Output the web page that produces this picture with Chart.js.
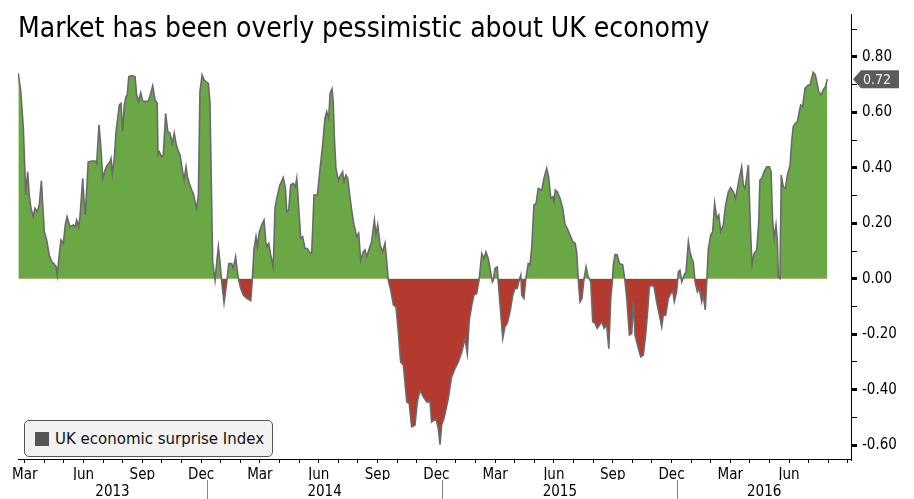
<!DOCTYPE html>
<html>
<head>
<meta charset="utf-8">
<script src="https://cdn.jsdelivr.net/npm/chart.js@4.4.1/dist/chart.umd.min.js"></script>
<style>
  body { margin: 0; background: #fff; }
  #wrap { position: relative; width: 914px; height: 499px; }
  #title {
    position: absolute; left: 18px; top: 12px;
    font-family: 'DejaVu Sans Condensed', 'DejaVu Sans', sans-serif;
    font-size: 28px; line-height: 32px; color: #000; white-space: nowrap;
  }
  #legend {
    position: absolute; left: 24px; top: 420px; width: 249px; height: 37px;
    box-sizing: border-box; border: 1px solid #555; border-radius: 5px;
    background: #f2f2f2; display: flex; align-items: center; padding-left: 10px;
    font-family: 'DejaVu Sans', sans-serif;
    font-size: 15px; color: #111;
  }
  #legend .box { width: 14px; height: 14px; background: #555; margin-right: 6px; }
</style>
</head>
<body>
<div id="wrap">
  <canvas id="surpriseChart"></canvas>
  <div id="title">Market has been overly pessimistic about UK economy</div>
  <div id="legend"><span class="box"></span>UK economic surprise Index</div>
</div>
<script>
// x = months since 1 Jan 2013, y = index value
const months = [
  2.37, 2.50, 2.63, 2.71, 2.75, 2.85, 2.93, 3.02, 3.14, 3.22,
  3.34, 3.44, 3.55, 3.62, 3.70, 3.82, 3.95, 4.08, 4.19, 4.30,
  4.36, 4.46, 4.55, 4.67, 4.77, 4.86, 5.01, 5.18, 5.27, 5.35,
  5.45, 5.52, 5.66, 5.72, 5.79, 5.94, 6.12, 6.29, 6.37, 6.49,
  6.59, 6.68, 6.80, 6.91, 7.05, 7.10, 7.17, 7.27, 7.36, 7.53,
  7.61, 7.70, 7.78, 7.87, 7.93, 8.01, 8.16, 8.33, 8.41, 8.50,
  8.62, 8.72, 8.84, 9.01, 9.13, 9.23, 9.35, 9.46, 9.50, 9.57,
  9.69, 9.77, 9.89, 10.00, 10.11, 10.23, 10.33, 10.42, 10.51, 10.62,
  10.76, 10.83, 10.93, 11.00, 11.10, 11.22, 11.30, 11.39, 11.47, 11.56,
  11.64, 11.75, 11.85, 11.95, 12.07, 12.15, 12.29, 12.41, 12.50, 12.58,
  12.66, 12.75, 12.87, 13.01, 13.11, 13.26, 13.34, 13.46, 13.55, 13.62,
  13.72, 13.85, 14.03, 14.23, 14.31, 14.40, 14.50, 14.57, 14.67, 14.79,
  14.91, 15.00, 15.05, 15.15, 15.25, 15.38, 15.47, 15.56, 15.72, 15.89,
  16.00, 16.07, 16.17, 16.27, 16.40, 16.51, 16.58, 16.66, 16.78, 16.88,
  17.00, 17.12, 17.22, 17.34, 17.46, 17.63, 17.77, 17.90, 18.02, 18.11,
  18.21, 18.28, 18.38, 18.44, 18.50, 18.58, 18.70, 18.82, 18.92, 18.99,
  19.09, 19.18, 19.26, 19.38, 19.50, 19.64, 19.74, 19.84, 19.97, 20.06,
  20.15, 20.28, 20.40, 20.54, 20.62, 20.71, 20.83, 20.96, 21.08, 21.17,
  21.25, 21.39, 21.51, 21.64, 21.76, 21.88, 22.02, 22.19, 22.32, 22.44,
  22.61, 22.73, 22.87, 23.04, 23.21, 23.38, 23.46, 23.68, 23.80, 23.89,
  23.97, 24.09, 24.31, 24.48, 24.65, 24.82, 25.00, 25.16, 25.28, 25.38,
  25.51, 25.62, 25.76, 25.88, 26.02, 26.13, 26.23, 26.35, 26.47, 26.56,
  26.61, 26.69, 26.81, 26.86, 26.98, 27.09, 27.20, 27.32, 27.46, 27.60,
  27.71, 27.83, 27.93, 28.01, 28.06, 28.17, 28.26, 28.39, 28.48, 28.57,
  28.68, 28.79, 28.90, 29.08, 29.19, 29.33, 29.43, 29.54, 29.64, 29.70,
  29.77, 29.87, 30.01, 30.15, 30.27, 30.38, 30.52, 30.66, 30.78, 30.86,
  30.94, 31.03, 31.13, 31.23, 31.34, 31.45, 31.58, 31.68, 31.80, 31.91,
  32.02, 32.14, 32.26, 32.39, 32.50, 32.60, 32.68, 32.73, 32.82, 32.93,
  33.04, 33.21, 33.33, 33.41, 33.55, 33.67, 33.75, 33.84, 34.01, 34.13,
  34.26, 34.38, 34.48, 34.57, 34.69, 34.81, 34.94, 35.08, 35.20, 35.28,
  35.40, 35.54, 35.66, 35.76, 35.84, 35.96, 36.05, 36.13, 36.22, 36.34,
  36.44, 36.56, 36.64, 36.73, 36.81, 36.90, 37.02, 37.12, 37.24, 37.32,
  37.42, 37.50, 37.58, 37.70, 37.80, 37.90, 38.01, 38.11, 38.21, 38.34,
  38.46, 38.60, 38.72, 38.85, 38.97, 39.08, 39.19, 39.28, 39.36, 39.45,
  39.54, 39.62, 39.67, 39.74, 39.81, 39.91, 40.05, 40.15, 40.21, 40.30,
  40.42, 40.56, 40.69, 40.78, 40.86, 40.94, 41.03, 41.10, 41.15, 41.23,
  41.30, 41.40, 41.51, 41.61, 41.75, 41.83, 41.91, 42.02, 42.12, 42.22,
  42.29, 42.39, 42.51, 42.60, 42.68, 42.77, 42.85, 42.93, 43.04, 43.11,
  43.21, 43.33, 43.44, 43.55, 43.65
];

const surprise = [
  0.741, 0.675, 0.543, 0.386, 0.302, 0.386, 0.302, 0.254, 0.224, 0.254,
  0.242, 0.266, 0.353, 0.266, 0.170, 0.140, 0.086, 0.061, 0.055, 0.043,
  0.013, 0.086, 0.140, 0.128, 0.194, 0.224, 0.188, 0.194, 0.188, 0.212,
  0.188, 0.224, 0.362, 0.290, 0.230, 0.422, 0.425, 0.425, 0.416, 0.555,
  0.470, 0.362, 0.392, 0.410, 0.422, 0.434, 0.380, 0.434, 0.531, 0.627,
  0.633, 0.531, 0.627, 0.657, 0.663, 0.729, 0.733, 0.729, 0.663, 0.639,
  0.671, 0.641, 0.639, 0.641, 0.669, 0.696, 0.645, 0.633, 0.447, 0.458,
  0.440, 0.447, 0.597, 0.531, 0.525, 0.488, 0.525, 0.488, 0.465, 0.447,
  0.386, 0.356, 0.404, 0.368, 0.344, 0.320, 0.308, 0.278, 0.254, 0.302,
  0.675, 0.735, 0.717, 0.711, 0.705, 0.639, 0.061, -0.005, 0.061, 0.116,
  0.061, -0.011, -0.087, -0.011, 0.055, 0.055, 0.037, 0.079, 0.025, -0.005,
  -0.035, -0.059, -0.071, -0.079, -0.005, 0.109, 0.152, 0.116, 0.170, 0.194,
  0.212, 0.134, 0.116, 0.128, 0.086, 0.043, 0.254, 0.290, 0.338, 0.365,
  0.326, 0.242, 0.248, 0.338, 0.344, 0.332, 0.362, 0.278, 0.146, 0.152,
  0.109, 0.109, 0.097, 0.091, 0.302, 0.302, 0.398, 0.483, 0.579, 0.603,
  0.579, 0.669, 0.685, 0.639, 0.506, 0.398, 0.356, 0.374, 0.386, 0.350,
  0.374, 0.362, 0.314, 0.248, 0.194, 0.152, 0.164, 0.067, 0.097, 0.104,
  0.079, 0.109, 0.134, 0.212, 0.158, 0.194, 0.122, 0.097, 0.128, 0.061,
  -0.005, -0.047, -0.095, -0.101, -0.191, -0.300, -0.312, -0.444, -0.450, -0.534,
  -0.528, -0.444, -0.402, -0.426, -0.444, -0.444, -0.516, -0.504, -0.540, -0.598,
  -0.528, -0.504, -0.432, -0.354, -0.324, -0.300, -0.264, -0.215, -0.270, -0.149,
  -0.095, -0.059, -0.053, -0.005, 0.091, 0.073, 0.097, 0.073, 0.025, -0.011,
  -0.004, 0.037, 0.043, -0.011, -0.119, -0.215, -0.173, -0.161, -0.119, -0.059,
  -0.035, -0.035, -0.005, 0.013, -0.059, -0.071, -0.004, 0.055, 0.050, 0.116,
  0.266, 0.272, 0.326, 0.320, 0.362, 0.398, 0.368, 0.290, 0.296, 0.278,
  0.320, 0.314, 0.290, 0.254, 0.194, 0.182, 0.158, 0.134, 0.128, 0.097,
  0.001, -0.083, -0.071, -0.004, 0.043, 0.007, -0.011, -0.155, -0.161, -0.179,
  -0.167, -0.155, -0.179, -0.167, -0.252, -0.071, -0.011, 0.050, 0.088, 0.086,
  0.055, 0.050, -0.011, -0.065, -0.203, -0.197, -0.083, -0.203, -0.252, -0.282,
  -0.275, -0.203, -0.119, -0.029, -0.023, -0.029, -0.083, -0.131, -0.173, -0.131,
  -0.131, -0.071, -0.053, -0.044, -0.083, -0.047, 0.025, 0.031, -0.011, 0.013,
  0.025, 0.134, 0.097, 0.073, 0.061, -0.011, -0.047, -0.035, -0.083, -0.059,
  -0.112, -0.005, 0.109, 0.158, 0.170, 0.272, 0.218, 0.230, 0.170, 0.194,
  0.266, 0.314, 0.329, 0.314, 0.290, 0.332, 0.374, 0.404, 0.338, 0.326,
  0.368, 0.410, 0.302, 0.158, 0.052, 0.091, 0.104, 0.206, 0.356, 0.362,
  0.386, 0.404, 0.404, 0.386, 0.206, 0.146, 0.194, 0.134, 0.007, 0.001,
  0.374, 0.332, 0.326, 0.374, 0.410, 0.495, 0.549, 0.561, 0.567, 0.603,
  0.627, 0.621, 0.687, 0.693, 0.699, 0.699, 0.723, 0.745, 0.735, 0.711,
  0.675, 0.663, 0.681, 0.693, 0.720
];

const monthNames = ['Jan', 'Feb', 'Mar', 'Apr', 'May', 'Jun', 'Jul', 'Aug', 'Sep', 'Oct', 'Nov', 'Dec'];
const labelledMonths = ['Mar', 'Jun', 'Sep', 'Dec'];
const years = ['2013', '2014', '2015', '2016'];
const yTicks = [-0.6, -0.5, -0.4, -0.3, -0.2, -0.1, 0, 0.1, 0.2, 0.3, 0.4, 0.5, 0.6, 0.7, 0.8, 0.9];

const xMin = 2.357;
const xMax = 44.857;
const monthOffset = 0.7;
const axisFont = { family: "'DejaVu Sans Condensed', 'DejaVu Sans', sans-serif", size: 15 };

// year label positions: centre of the visible part of each year, plus dividers
const yearTicks = [];
years.forEach((y, i) => {
    const a = Math.max(xMin, i * 12);
    const b = Math.min(xMax, (i + 1) * 12);
    yearTicks.push({ value: (a + b) / 2, label: y, divider: false });
    if (i > 0) yearTicks.push({ value: i * 12, label: '', divider: true });
});
yearTicks.sort((p, q) => p.value - q.value);

const lastValueTag = {
    id: 'lastValueTag',
    afterDraw(chart) {
        const { ctx, chartArea, scales } = chart;
        const v = surprise[surprise.length - 1];
        const y = scales.y.getPixelForValue(v);
        const x0 = chartArea.right + 2;
        ctx.save();
        ctx.beginPath();
        ctx.moveTo(x0, y);
        ctx.lineTo(x0 + 8, y - 9);
        ctx.lineTo(x0 + 46, y - 9);
        ctx.lineTo(x0 + 46, y + 9);
        ctx.lineTo(x0 + 8, y + 9);
        ctx.closePath();
        ctx.fillStyle = '#5b5b5b';
        ctx.fill();
        ctx.fillStyle = '#eeeeee';
        ctx.font = "14px 'DejaVu Sans Condensed', 'DejaVu Sans', sans-serif";
        ctx.textBaseline = 'middle';
        ctx.fillText(v.toFixed(2), x0 + 10, y + 1);
        ctx.restore();
    }
};

new Chart(document.getElementById('surpriseChart'), {
    type: 'line',
    data: {
        datasets: [{
            label: 'UK economic surprise Index',
            data: months.map((m, i) => ({ x: m, y: surprise[i] })),
            borderColor: '#6a6a6a',
            borderWidth: 1.6,
            pointRadius: 0,
            tension: 0,
            fill: { target: { value: 0 }, above: '#6aa845', below: '#b4392f' }
        }]
    },
    options: {
        responsive: true,
        maintainAspectRatio: false,
        animation: false,
        layout: { padding: { left: 18, top: 12, right: 0, bottom: 0 } },
        plugins: {
            legend: { display: false },
            tooltip: { enabled: false }
        },
        scales: {
            x: {
                type: 'linear',
                min: xMin,
                max: xMax,
                weight: 0,
                afterBuildTicks: (scale) => {
                    const t = [];
                    for (let m = 2; m <= 44; m++) t.push({ value: m + monthOffset });
                    scale.ticks = t;
                },
                afterFit: (scale) => { scale.height = 21; },
                ticks: {
                    autoSkip: false,
                    maxRotation: 0,
                    padding: 3,
                    color: '#000',
                    font: axisFont,
                    callback: (value) => {
                        if (value + 1 > xMax) return '';
                        const name = monthNames[Math.round(value - monthOffset) % 12];
                        return labelledMonths.includes(name) ? name : '';
                    }
                },
                grid: { drawOnChartArea: false, drawTicks: true, tickLength: 4, color: '#000' },
                border: { display: true, color: '#000', width: 1 }
            },
            x2: {
                type: 'linear',
                position: 'bottom',
                min: xMin,
                max: xMax,
                weight: 1,
                afterBuildTicks: (scale) => {
                    scale.ticks = yearTicks.map(t => ({ value: t.value }));
                },
                afterFit: (scale) => { scale.height = 19; },
                ticks: {
                    autoSkip: false,
                    maxRotation: 0,
                    padding: -17,
                    color: '#000',
                    font: axisFont,
                    callback: (value) => {
                        const t = yearTicks.find(p => Math.abs(p.value - value) < 1e-6);
                        return t ? t.label : '';
                    }
                },
                grid: {
                    drawOnChartArea: false,
                    drawTicks: true,
                    tickLength: 20,
                    color: (ctx) => {
                        const t = ctx.tick && yearTicks.find(p => Math.abs(p.value - ctx.tick.value) < 1e-6);
                        return (t && t.divider) ? '#888' : 'rgba(0,0,0,0)';
                    }
                },
                border: { display: false }
            },
            y: {
                position: 'right',
                min: -0.65,
                max: 0.955,
                afterBuildTicks: (scale) => {
                    scale.ticks = yTicks.map(v => ({ value: v }));
                },
                afterFit: (scale) => { scale.width = 63; },
                ticks: {
                    padding: 5,
                    color: '#000',
                    font: axisFont,
                    callback: (value) => (Math.round(value * 10) % 2 === 0) ? value.toFixed(2) : ''
                },
                grid: {
                    drawOnChartArea: false,
                    drawTicks: true,
                    tickLength: 6,
                    color: '#000',
                    lineWidth: (ctx) => (ctx.tick && Math.round(ctx.tick.value * 10) % 2 === 0) ? 3 : 1
                },
                border: { display: true, color: '#000', width: 1 }
            }
        }
    },
    plugins: [lastValueTag]
});
</script>
</body>
</html>
